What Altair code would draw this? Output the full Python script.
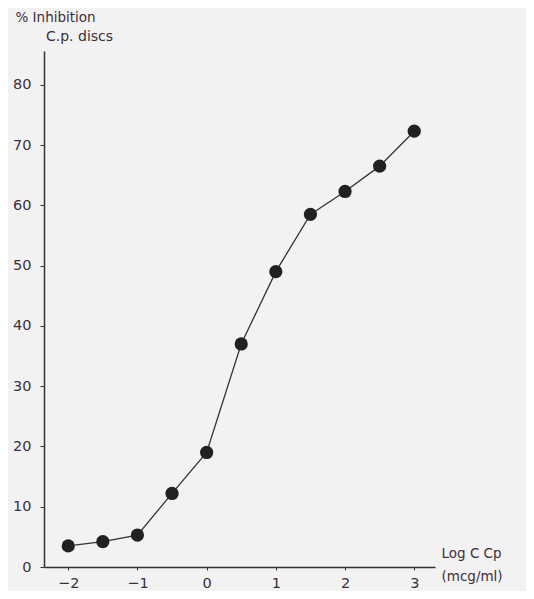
import altair as alt
import pandas as pd

log_conc = [-2, -1.5, -1, -0.5, 0, 0.5, 1, 1.5, 2, 2.5, 3]
inhibition = [3.5, 4.2, 5.3, 12.2, 19.0, 37.0, 49.0, 58.5, 62.3, 66.5, 72.3]
x_ticks = [-2, -1, 0, 1, 2, 3]
y_ticks = [0, 10, 20, 30, 40, 50, 60, 70, 80]
subtitle = ["C.p. discs"]

df = pd.DataFrame({"x": log_conc, "y": inhibition})
sub_df = pd.DataFrame({"t": subtitle})

ink = "#3b3039"
font = "DejaVu Sans"
nb = "\u00a0"

x_enc = alt.X("x:Q",
              scale=alt.Scale(domain=[-2.35, 3.3], nice=False, zero=False),
              axis=alt.Axis(values=x_ticks, format="d",
                            title=["Log C Cp", nb * 2 + "(mcg/ml)"],
                            titleX=397, titleY=-14, titleAlign="left",
                            titleAngle=0, titleBaseline="middle",
                            titleFontSize=13.5, titleFontWeight="normal",
                            titleColor=ink, titleFont=font, titleLineHeight=23,
                            labelFontSize=14.5, labelColor=ink, labelFont=font,
                            labelPadding=6, tickSize=3, tickColor=ink,
                            domainColor=ink, domainWidth=1.5, grid=False))
y_enc = alt.Y("y:Q",
              scale=alt.Scale(domain=[0, 85.6], nice=False),
              axis=alt.Axis(values=y_ticks, format="d", title="% Inhibition",
                            titleX=-29, titleY=-34, titleAlign="left",
                            titleAngle=0, titleBaseline="middle",
                            titleFontSize=13.5, titleFontWeight="normal",
                            titleColor=ink, titleFont=font,
                            labelFontSize=14.5, labelColor=ink, labelFont=font,
                            labelPadding=9, tickSize=4, tickColor=ink,
                            domainColor=ink, domainWidth=1.5, grid=False))

line = alt.Chart(df).mark_line(color=ink, strokeWidth=1.3).encode(x=x_enc, y=y_enc)
pts = alt.Chart(df).mark_point(filled=True, color="#222022", size=175, opacity=1).encode(x="x:Q", y="y:Q")
sub = alt.Chart(sub_df).mark_text(align="left", baseline="middle", fontSize=14,
                                  color=ink, font=font).encode(
    x=alt.value(2), y=alt.value(-14), text="t:N")

chart = (line + pts + sub).properties(
    width=391, height=516,
    autosize=alt.AutoSizeParams(type="none"),
    padding={"left": 36, "top": 43, "right": 91, "bottom": 24},
    background="#f3f2f3",
).configure_view(stroke=None)

chart.save("out.html", embed_options={"renderer": "svg", "actions": False})
